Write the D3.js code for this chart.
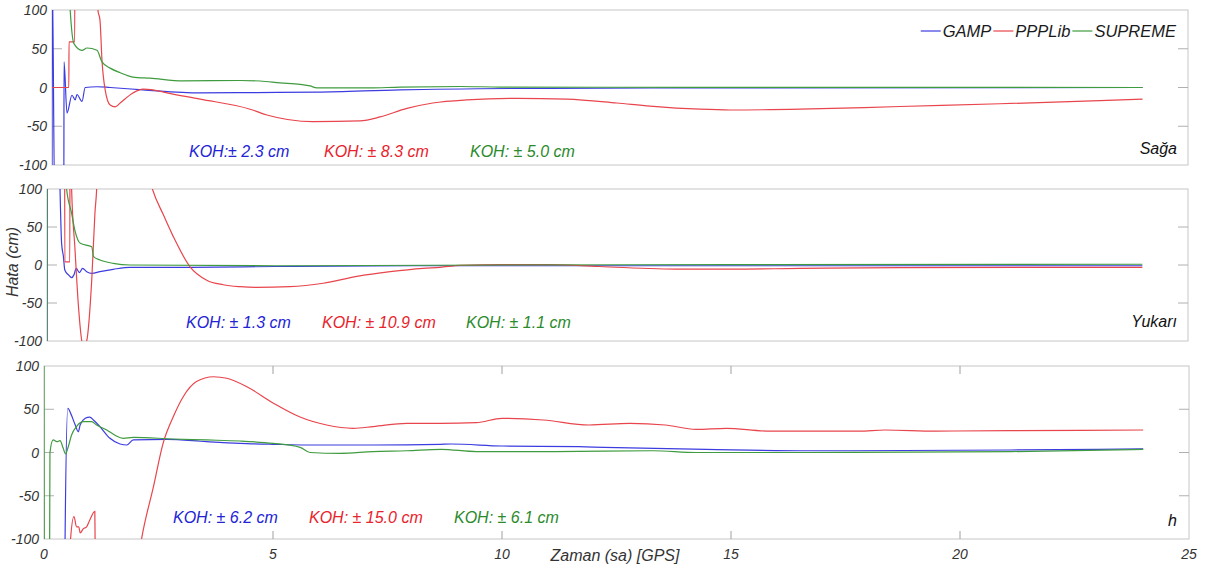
<!DOCTYPE html>
<html>
<head>
<meta charset="utf-8">
<script src="https://cdn.jsdelivr.net/npm/d3@7"></script>
<style>
  body { margin: 0; background: #fff; }
  text { font-family: "Liberation Sans", Arial, sans-serif; font-style: italic; }
</style>
</head>
<body>
<svg id="chart" width="1210" height="573"></svg>
<script>
// series names + colours
var seriesNames = ["GAMP", "PPPLib", "SUPREME"];
var lineColors = ["#3c3ce0", "#e8454c", "#3f9b3f"];
var textColors = ["#2323d6", "#e8232c", "#2b8a2b"];

// ticks
var hourTicks = [0, 5, 10, 15, 20, 25];
var errTicks = [-100, -50, 0, 50, 100];

// [hour, error cm] -- Saga (east)
var sagaGamp = [[0,-150],[0.005,150],[0.06,-150],[0.26,-150],[0.265,33],[0.33,-33],[0.44,-10],[0.51,-16],[0.55,-9],[0.66,-18],[0.73,0],[0.99,1],[1.28,0],[2.0,-3],[3.26,-7],[4.5,-6.5],[5.83,-6],[7.66,-3],[10.96,-1],[15,-0.5],[24,0]];
var sagaPpp = [[0,0],[0.37,0],[0.375,59],[0.5,59],[0.505,250],[0.95,250],[1.01,100],[1.056,87],[1.10,35],[1.17,-3],[1.28,-22.6],[1.39,-25],[1.50,-20],[1.78,-7],[2.0,-2],[2.22,-3],[2.53,-7],[3.26,-15],[4.36,-28],[4.73,-35.5],[5.74,-44],[6.78,-43],[7.22,-38],[7.81,-27],[8.38,-20],[9.13,-16],[10.23,-14],[11.33,-15],[12.43,-20],[13.16,-24],[14.26,-28],[14.92,-29],[16.46,-28],[18.66,-24.5],[20.86,-21],[23.06,-17],[24,-15]];
var sagaSup = [[0,250],[0.38,120],[0.40,100],[0.48,57],[0.66,48],[0.77,51],[0.99,48],[1.10,33],[1.28,25],[1.50,19],[1.78,13.5],[2.16,12],[2.88,8.5],[4.14,9],[4.58,8.4],[5.02,6],[5.46,4],[5.68,2],[5.83,-0.6],[7.0,-0.6],[7.66,0.6],[8.98,1.3],[9.86,0.6],[12,0.3],[24,0]];

// Yukari (up)
var yukGamp = [[0,-150],[0.01,200],[0.25,200],[0.285,100],[0.32,28.5],[0.36,11],[0.39,-6.6],[0.47,-13],[0.54,-16.7],[0.59,-13],[0.64,-4.4],[0.71,-10],[0.78,-4.4],[0.87,-8.8],[0.98,-11],[1.16,-8.8],[1.45,-5.7],[1.82,-3],[2.4,-3],[3.13,-3],[5,-2],[8,-1],[24,-1]];
var yukPpp = [[0,250],[0.385,250],[0.39,4],[0.50,4],[0.505,250],[0.52,150],[0.54,99],[0.61,24],[0.69,-55],[0.76,-99],[0.81,-108],[0.87,-100],[0.98,-20],[1.05,68],[1.09,103],[1.15,250],[1.9,300],[2.0,205],[2.1,160],[2.2,125],[2.31,100],[2.55,66],[2.77,37],[3.13,-2],[3.50,-20],[3.86,-26],[4.23,-28.5],[4.59,-29.4],[5.32,-28.5],[6.05,-24],[6.79,-15],[7.52,-8.8],[8.24,-4.4],[8.61,-3],[9.05,-0.5],[9.93,0.5],[11.0,0.5],[12.1,-2],[13.9,-5.5],[15.0,-5.5],[16.5,-4.5],[18.7,-3.5],[24,-3]];
var yukSup = [[0,-150],[0.005,200],[0.40,200],[0.43,100],[0.54,68],[0.61,46],[0.73,28.5],[0.98,24],[1.02,11],[1.16,6.6],[1.45,2.2],[1.82,0],[5,-1],[10,0],[15,0.5],[24,1]];

// h (height)
var hGamp = [[0,-300],[0.44,-300],[0.46,-100],[0.52,51],[0.60,43],[0.68,32],[0.75,24],[0.79,32],[0.90,39.5],[1.0,41],[1.08,37.6],[1.22,30],[1.44,16.4],[1.66,9.8],[1.81,8.7],[1.95,14.5],[2.68,15.2],[3.55,12.5],[4.28,10.6],[5.0,9.5],[5.74,8.7],[7.18,8.7],[8.65,9.5],[8.89,9.8],[10.0,7.5],[11.67,6.7],[12.23,6],[14.45,3.7],[16.68,2],[21.1,2.9],[24,4.2]];
var hPpp = [[0,-300],[0.57,-300],[0.58,-100],[0.655,-74],[0.71,-86],[0.76,-86],[0.79,-93],[0.86,-88],[0.93,-86],[1.0,-78],[1.11,-68],[1.15,-300],[1.6,-320],[1.8,-210],[2.0,-145],[2.13,-100],[2.39,-39.5],[2.60,10.6],[2.82,41],[3.04,64.5],[3.33,82],[3.70,87.6],[3.99,85.8],[4.43,76],[5.01,57],[5.59,41],[6.17,31.8],[6.75,28],[7.19,30],[7.92,33.7],[8.65,33.7],[9.44,34.5],[10.0,39.5],[10.9,37.6],[11.9,31.8],[12.79,33.7],[13.56,31.8],[14.24,26.8],[14.9,28],[15.79,24.8],[17.8,24.8],[18.36,26],[19.47,24.8],[21.1,25.2],[24,26]];
var hSup = [[0,150],[0.01,-150],[0.12,-150],[0.13,0],[0.20,14.5],[0.28,12.5],[0.35,13.7],[0.42,4.8],[0.47,-1.7],[0.53,6.7],[0.60,20],[0.71,30],[0.86,35.6],[1.04,35.6],[1.15,31.8],[1.37,26],[1.55,20],[1.73,16.4],[1.95,17.5],[2.82,15.6],[3.55,14.5],[4.28,13.3],[5.0,10.6],[5.59,6],[5.81,0],[6.46,-1],[7.18,1],[7.92,2],[8.67,3.7],[9.44,1],[11.1,1],[13.3,2],[14.24,0],[16.68,0],[21.1,1],[24,3.5]];

// RMS labels
var kohSaga = ["KOH:\u00b1 2.3 cm", "KOH: \u00b1 8.3 cm", "KOH: \u00b1 5.0 cm"];
var kohYukari = ["KOH: \u00b1 1.3 cm", "KOH: \u00b1 10.9 cm", "KOH: \u00b1 1.1 cm"];
var kohH = ["KOH: \u00b1 6.2 cm", "KOH: \u00b1 15.0 cm", "KOH: \u00b1 6.1 cm"];

var panels = [
  {label: "Sa\u011fa", left: 52, right: 1188, top: 10, bottom: 165, lines: [sagaGamp, sagaPpp, sagaSup], koh: kohSaga, kohX: [189, 324, 470], kohY: 157, labelY: 154, xTicks: false},
  {label: "Yukar\u0131", left: 47, right: 1188, top: 189, bottom: 341, lines: [yukGamp, yukPpp, yukSup], koh: kohYukari, kohX: [186, 322, 466], kohY: 328, labelY: 327, xTicks: false},
  {label: "h", left: 44, right: 1189, top: 366, bottom: 539, lines: [hGamp, hPpp, hSup], koh: kohH, kohX: [173, 309, 454], kohY: 523, labelY: 526, xTicks: true}
];

var svg = d3.select("#chart");

panels.forEach(function(p, pi) {
  var x = d3.scaleLinear().domain([0, 25]).range([p.left, p.right]);
  var y = d3.scaleLinear().domain([-100, 100]).range([p.bottom, p.top]);
  var g = svg.append("g");

  svg.append("clipPath").attr("id", "clip" + pi)
    .append("rect")
      .attr("x", p.left).attr("y", p.top)
      .attr("width", p.right - p.left).attr("height", p.bottom - p.top);

  g.append("rect")
    .attr("x", p.left).attr("y", p.top)
    .attr("width", p.right - p.left).attr("height", p.bottom - p.top)
    .attr("fill", "none").attr("stroke", "#c6c6c6").attr("stroke-width", 1);

  // y ticks, inside on both sides
  var yt = g.selectAll(".ytick").data(errTicks.slice(1, -1)).enter().append("g");
  yt.append("line")
    .attr("x1", p.left).attr("x2", p.left + 10)
    .attr("y1", function(d) { return y(d); }).attr("y2", function(d) { return y(d); })
    .attr("stroke", "#b0b0b0");
  yt.append("line")
    .attr("x1", p.right - 10).attr("x2", p.right)
    .attr("y1", function(d) { return y(d); }).attr("y2", function(d) { return y(d); })
    .attr("stroke", "#b0b0b0");

  g.selectAll(".ylab").data(errTicks).enter().append("text")
    .attr("x", p.left - 5)
    .attr("y", function(d) { return y(d); })
    .attr("dy", "0.36em")
    .attr("text-anchor", "end")
    .attr("font-size", 14)
    .attr("fill", "#333")
    .text(function(d) { return d; });

  if (p.xTicks) {
    var xt = g.selectAll(".xtick").data(hourTicks.slice(1, -1)).enter().append("g");
    xt.append("line")
      .attr("x1", function(d) { return x(d); }).attr("x2", function(d) { return x(d); })
      .attr("y1", p.bottom).attr("y2", p.bottom - 8)
      .attr("stroke", "#a0a0a0");
    xt.append("line")
      .attr("x1", function(d) { return x(d); }).attr("x2", function(d) { return x(d); })
      .attr("y1", p.top).attr("y2", p.top + 8)
      .attr("stroke", "#a0a0a0");
    g.selectAll(".xlab").data(hourTicks).enter().append("text")
      .attr("x", function(d) { return x(d); })
      .attr("y", p.bottom + 20)
      .attr("text-anchor", "middle")
      .attr("font-size", 14)
      .attr("fill", "#333")
      .text(function(d) { return d; });
  }

  var line = d3.line()
    .curve(d3.curveMonotoneX)
    .x(function(d) { return x(d[0]); })
    .y(function(d) { return y(d[1]); });

  g.append("g").attr("clip-path", "url(#clip" + pi + ")")
    .selectAll("path").data(p.lines).enter().append("path")
      .attr("d", line)
      .attr("fill", "none")
      .attr("stroke", function(d, i) { return lineColors[i]; })
      .attr("stroke-width", 1.2);

  g.selectAll(".koh").data(p.koh).enter().append("text")
    .attr("x", function(d, i) { return p.kohX[i]; })
    .attr("y", p.kohY)
    .attr("font-size", 16)
    .attr("fill", function(d, i) { return textColors[i]; })
    .text(function(d) { return d; });

  g.append("text")
    .attr("x", 1177).attr("y", p.labelY)
    .attr("text-anchor", "end")
    .attr("font-size", 16)
    .attr("fill", "#111")
    .text(p.label);
});

// legend in the top panel, right end at 1176
var legend = svg.append("g");
var lx = 0;
seriesNames.forEach(function(name, i) {
  legend.append("line")
    .attr("x1", lx).attr("x2", lx + 20)
    .attr("y1", 31).attr("y2", 31)
    .attr("stroke", lineColors[i]).attr("stroke-width", 1.2);
  var t = legend.append("text")
    .attr("x", lx + 22).attr("y", 37)
    .attr("font-size", 16.5)
    .attr("fill", "#1a1a1a")
    .text(name);
  lx += 22 + t.node().getComputedTextLength() + 2;
});
legend.attr("transform", "translate(" + (1178 - lx) + ",0)");

svg.append("text")
  .attr("x", 615).attr("y", 561)
  .attr("text-anchor", "middle")
  .attr("font-size", 16)
  .attr("fill", "#333")
  .text("Zaman (sa) [GPS]");

svg.append("text")
  .attr("transform", "translate(18,262) rotate(-90)")
  .attr("text-anchor", "middle")
  .attr("font-size", 16)
  .attr("fill", "#333")
  .text("Hata (cm)");
</script>
</body>
</html>
